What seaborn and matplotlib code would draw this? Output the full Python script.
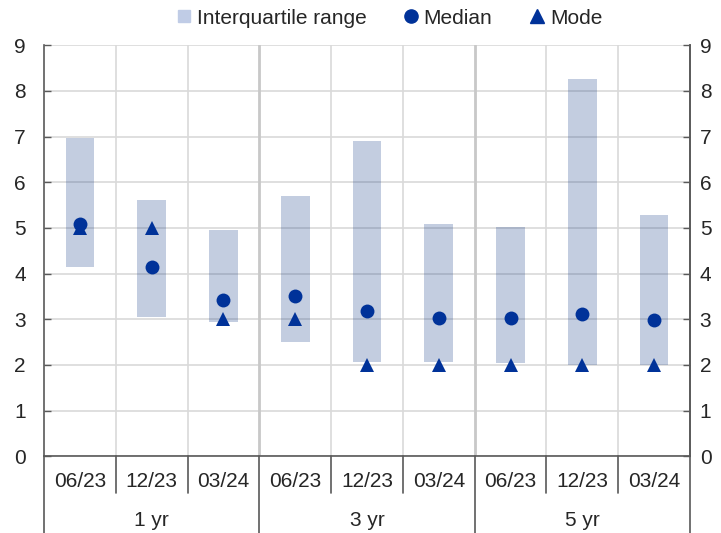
import matplotlib
matplotlib.use("Agg")
import matplotlib.pyplot as plt
from matplotlib.lines import Line2D
import seaborn as sns
import pandas as pd

# ---- data ----
horizons = ["1 yr", "3 yr", "5 yr"]
rounds = ["06/23", "12/23", "03/24"]
q1 = [4.15, 3.05, 2.93, 2.50, 2.07, 2.07, 2.05, 2.01, 2.00]
q3 = [6.98, 5.61, 4.96, 5.70, 6.91, 5.09, 5.03, 8.26, 5.28]
median = [5.08, 4.15, 3.43, 3.52, 3.19, 3.02, 3.03, 3.12, 2.99]
mode = [5.0, 5.0, 3.0, 3.0, 2.0, 2.0, 2.0, 2.0, 2.0]
yticks = [0, 1, 2, 3, 4, 5, 6, 7, 8, 9]

cats = [f"{h} {r}" for h in horizons for r in rounds]
df = pd.DataFrame({"cat": cats, "q1": q1, "q3": q3,
                   "iqr": [b - a for a, b in zip(q1, q3)],
                   "median": median, "mode": mode})

BLUE = "#003299"
BAR = "#c0cce6"
GRID = "#d9d9d9"
DARK = "#595959"

sns.set_style("white")
plt.rcParams["font.family"] = ["Liberation Sans", "DejaVu Sans"]
plt.rcParams["font.size"] = 15

fig = plt.figure(figsize=(7.21, 5.33), dpi=100)
ax = fig.add_axes([44 / 721, 1 - 456.3 / 533, (690 - 44) / 721, (456.3 - 45.3) / 533])

sns.barplot(data=df, x="cat", y="iqr", order=cats, bottom=df["q1"].values,
            color=BLUE, alpha=0.25, width=0.4, errorbar=None, ax=ax,
            linewidth=0, zorder=2)
sns.pointplot(data=df, x="cat", y="median", order=cats, color=BLUE,
              linestyle="none", marker="o", markersize=10, markeredgewidth=0,
              errorbar=None, ax=ax, zorder=4)
sns.pointplot(data=df, x="cat", y="mode", order=cats, color=BLUE,
              linestyle="none", marker="^", markersize=10, markeredgewidth=0,
              errorbar=None, ax=ax, zorder=4)

n = len(cats)
ax.set_xlim(-0.5, n - 0.5)
ax.set_ylim(0, 9)
ax.set_yticks(yticks)
ax.set_xlabel("")
ax.set_ylabel("")
ax.tick_params(axis="x", bottom=False, labelbottom=False)
ax.tick_params(axis="y", direction="in", length=5, width=1, color=DARK,
               pad=13, labelsize=15, left=True)
ax.yaxis.grid(True, color=GRID, linewidth=1.2, zorder=0)
ax.set_axisbelow(True)

for x in [i + 0.5 for i in range(n - 1)]:
    group_edge = (x + 0.5) % 3 == 0
    ax.axvline(x, color="#c8c8c8" if group_edge else GRID,
               linewidth=2.0 if group_edge else 1.2, zorder=1)

for s in ["top"]:
    ax.spines[s].set_visible(False)
for s in ["left", "right", "bottom"]:
    ax.spines[s].set_color(DARK)
    ax.spines[s].set_linewidth(1.2)

ax2 = ax.twinx()
ax2.set_ylim(0, 9)
ax2.set_yticks(yticks)
ax2.tick_params(axis="y", direction="in", length=5, width=1, color=DARK,
                pad=7, labelsize=15)
for s in ["top", "left", "bottom"]:
    ax2.spines[s].set_visible(False)
ax2.spines["right"].set_color(DARK)
ax2.spines["right"].set_linewidth(1.2)

# hierarchical category axis
trans = ax.get_xaxis_transform()
short_y = -(493 - 456.3) / 411
long_y = -(533 - 456.3) / 411
for i in range(n + 1):
    x = i - 0.5
    y1 = long_y if i % 3 == 0 else short_y
    ax.add_line(Line2D([x, x], [0, y1], transform=trans, color=DARK,
                       linewidth=1.2, clip_on=False))
for i, c in enumerate(cats):
    ax.text(i, -(481.5 - 456.3) / 411, rounds[i % 3], transform=trans,
            ha="center", va="center", fontsize=15)
for g, h in enumerate(horizons):
    ax.text(3 * g + 1, -(520 - 456.3) / 411, h, transform=trans,
            ha="center", va="center", fontsize=15)

handles = [
    Line2D([], [], marker="s", color=BAR, linestyle="none", markersize=8.5),
    Line2D([], [], marker="o", color=BLUE, linestyle="none", markersize=9.5),
    Line2D([], [], marker="^", color=BLUE, linestyle="none", markersize=9.5),
]
fig.legend(handles, ["Interquartile range", "Median", "Mode"], loc="center",
           bbox_to_anchor=(389 / 721, 1 - 18 / 533), ncol=3, frameon=False,
           fontsize=15, handlelength=0.8, handletextpad=0.2,
           columnspacing=1.75, borderpad=0.2)

fig.savefig("out.png", dpi=100)
